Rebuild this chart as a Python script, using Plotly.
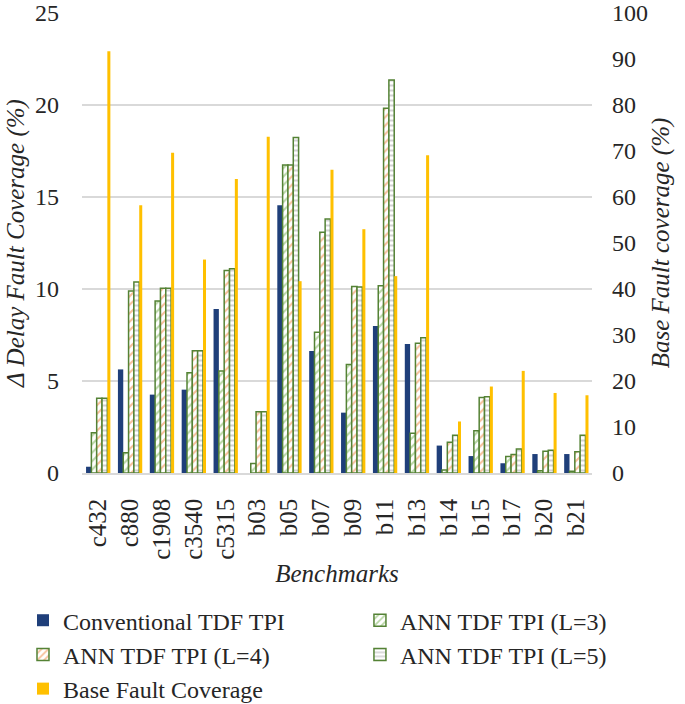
import plotly.graph_objects as go

benchmarks = ["c432", "c880", "c1908", "c3540", "c5315", "b03", "b05", "b07",
              "b09", "b11", "b13", "b14", "b15", "b17", "b20", "b21"]
conventional = [0.34, 5.63, 4.26, 4.53, 8.91, 0.0, 14.55, 6.63, 3.28, 7.99, 7.01, 1.49, 0.92, 0.53, 1.03, 1.03]
ann_l3 = [2.19, 1.10, 9.35, 5.45, 5.54, 0.51, 16.74, 7.65, 5.89, 10.18, 2.16, 0.16, 2.30, 0.89, 0.12, 0.10]
ann_l4 = [4.06, 9.89, 10.04, 6.65, 11.01, 3.33, 16.74, 13.08, 10.14, 19.82, 7.05, 1.67, 4.11, 1.01, 1.18, 1.16]
ann_l5 = [4.06, 10.38, 10.04, 6.65, 11.10, 3.33, 18.24, 13.80, 10.11, 21.36, 7.35, 2.05, 4.15, 1.30, 1.23, 2.05]
base_cov = [91.7, 58.2, 69.6, 46.4, 63.9, 73.1, 41.7, 65.9, 53.0, 42.8, 69.1, 11.2, 18.8, 22.2, 17.4, 16.9]

FONT = "Liberation Serif"
GREEN = "#548235"
W = 0.167
TXT = "#262626"

fig = go.Figure()
fig.add_trace(go.Bar(x=benchmarks, y=conventional, name="Conventional TDF TPI", legend="legend",
                     marker=dict(color="#1f3f7a", line=dict(width=0)),
                     width=W, offset=-0.373))
fig.add_trace(go.Bar(x=benchmarks, y=ann_l3, name="ANN TDF TPI (L=3)", legend="legend2",
                     marker=dict(color="white", line=dict(color=GREEN, width=1.5),
                                 pattern=dict(shape="/", fgcolor="#70ad47", bgcolor="white", size=6, solidity=0.35)),
                     width=W, offset=-0.373 + W))
fig.add_trace(go.Bar(x=benchmarks, y=ann_l4, name="ANN TDF TPI (L=4)", legend="legend",
                     marker=dict(color="white", line=dict(color=GREEN, width=1.5),
                                 pattern=dict(shape="/", fgcolor="#ed7d31", bgcolor="white", size=6, solidity=0.35)),
                     width=W, offset=-0.373 + 2 * W))
fig.add_trace(go.Bar(x=benchmarks, y=ann_l5, name="ANN TDF TPI (L=5)", legend="legend2",
                     marker=dict(color="white", line=dict(color=GREEN, width=1.5),
                                 pattern=dict(shape="-", fgcolor="#a5a5a5", bgcolor="white", size=5, solidity=0.4)),
                     width=W, offset=-0.373 + 3 * W))
fig.add_trace(go.Bar(x=benchmarks, y=base_cov, name="Base Fault Coverage", yaxis="y2", legend="legend",
                     marker=dict(color="#ffc000", line=dict(width=0)),
                     width=0.095, offset=0.295))

legend_common = dict(orientation="v", yanchor="top", xanchor="left", traceorder="normal",
                     font=dict(family=FONT, size=24, color=TXT), itemwidth=30, tracegroupgap=0,
                     bgcolor="rgba(0,0,0,0)")

fig.update_layout(
    width=685, height=704,
    margin=dict(l=82, r=93, t=13, b=231, autoexpand=False),
    paper_bgcolor="white", plot_bgcolor="white",
    font=dict(family=FONT, size=24, color=TXT),
    showlegend=True,
    barmode="overlay",
    xaxis=dict(tickangle=-90, showgrid=False, showline=True, linecolor="#d9d9d9", linewidth=1.5,
               ticks="", tickfont=dict(family=FONT, size=25, color=TXT), ticklabelstandoff=14,
               title=dict(text="<i>Benchmarks</i>", font=dict(family=FONT, size=25, color=TXT), standoff=6),
               range=[-0.5, 15.5]),
    yaxis=dict(range=[0, 25], dtick=5, showgrid=True, gridcolor="#d9d9d9", gridwidth=1.5,
               zeroline=False, ticks="", tickfont=dict(family=FONT, size=24, color=TXT), ticklabelstandoff=22,
               ticklabeloverflow="allow",
               title=dict(text="<i>Δ Delay Fault Coverage (%)</i>", font=dict(family=FONT, size=25, color=TXT), standoff=3)),
    yaxis2=dict(range=[0, 100], dtick=10, overlaying="y", side="right", showgrid=False,
                zeroline=False, ticks="", tickfont=dict(family=FONT, size=24, color=TXT), ticklabelstandoff=19,
                ticklabeloverflow="allow",
                title=dict(text="<i>Base Fault coverage (%)</i>", font=dict(family=FONT, size=25, color=TXT), standoff=4)),
    legend=dict(x=-0.1157, y=-0.272, **legend_common),
    legend2=dict(x=0.545, y=-0.272, **legend_common),
)

fig.write_html("out.html", config={"displayModeBar": False},
               post_script="document.body.style.margin='0';")
